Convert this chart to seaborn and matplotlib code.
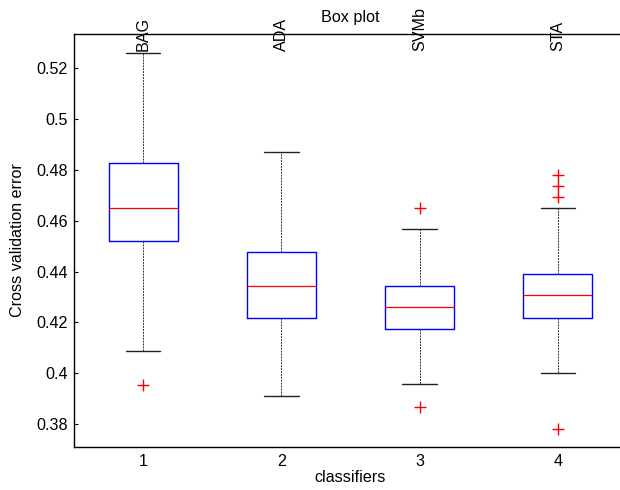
import numpy as np
import pandas as pd
import matplotlib
matplotlib.use("Agg")
import matplotlib.pyplot as plt
import seaborn as sns

# ---- data (five-number summaries per classifier) ----
classifiers = ["1", "2", "3", "4"]
names = ["BAG", "ADA", "SVMb", "STA"]
lower_whisker = [0.4086, 0.3911, 0.3957, 0.4002]
q1 = [0.4521, 0.4217, 0.4173, 0.4217]
median = [0.4651, 0.4345, 0.4262, 0.4306]
q3 = [0.4825, 0.4475, 0.4345, 0.4390]
upper_whisker = [0.5260, 0.4870, 0.4566, 0.4651]
outlier_clf = ["1", "3", "3", "4", "4", "4", "4"]
outlier_val = [0.3953, 0.4648, 0.3868, 0.4779, 0.4736, 0.4694, 0.3780]
ytick_values = [0.38, 0.40, 0.42, 0.44, 0.46, 0.48, 0.50, 0.52]

# long-form table from the summaries
rows = []
for c, a, b, m, d, e in zip(classifiers, lower_whisker, q1, median, q3, upper_whisker):
    for v in (a, b, m, d, e):
        rows.append({"clf": c, "err": v})
df = pd.DataFrame(rows)
out_df = pd.DataFrame({"clf": outlier_clf, "err": outlier_val})

sns.set_theme(style="white")
plt.rcParams["font.family"] = ["Liberation Sans", "DejaVu Sans"]
FS = 11.6
plt.rcParams["font.size"] = FS

fig = plt.figure(figsize=(6.2, 4.9), dpi=100)
L, R, T, B = 74, 627, 34, 447
ax = fig.add_axes([L / 620, 1 - B / 490, (R - L) / 620, (B - T) / 490])

sns.boxplot(
    data=df, x="clf", y="err", order=classifiers, ax=ax,
    width=0.5, whis=(0, 100), showfliers=False, fill=False,
    boxprops=dict(color="#0000ff", linewidth=1.0),
    medianprops=dict(color="#ff0000", linewidth=0.9),
    whiskerprops=dict(color="#333333", linestyle=(0, (2.0, 1.0)), linewidth=0.7),
    capprops=dict(color="#222222", linewidth=1.0),
)
sns.stripplot(
    data=out_df, x="clf", y="err", order=classifiers, ax=ax,
    jitter=False, marker="+", color="#ff0000", size=8, linewidth=1.0,
)

ax.set_xlim(-0.5, 3.5)
ax.set_ylim(0.3710, 0.5334)
ax.set_yticks(ytick_values)
ax.set_yticklabels([f"{v:g}" for v in ytick_values])
ax.set_xticks(range(len(classifiers)))
ax.set_xticklabels(classifiers)

for s in ax.spines.values():
    s.set_visible(True)
    s.set_color("black")
    s.set_linewidth(1.0)

ax.tick_params(axis="y", which="both", direction="in", left=True, right=True,
               length=3, width=0.8, color="black", labelsize=FS, pad=4.3,
               labelcolor="black")
ax.tick_params(axis="x", which="both", length=0, labelsize=FS, pad=5,
               labelcolor="black")

ax.set_xlabel("classifiers", fontsize=FS, labelpad=0.5, color="black")
ax.set_ylabel("Cross validation error", fontsize=FS, labelpad=8, color="black")
ax.set_title("Box plot", fontsize=FS, pad=8.5, color="black")

for i, n in enumerate(names):
    ax.text(i, 1 - 17 / 413, n, transform=ax.get_xaxis_transform(),
            rotation=90, ha="center", va="bottom", fontsize=FS, color="black",
            clip_on=False)

fig.savefig("out.png", dpi=100)
